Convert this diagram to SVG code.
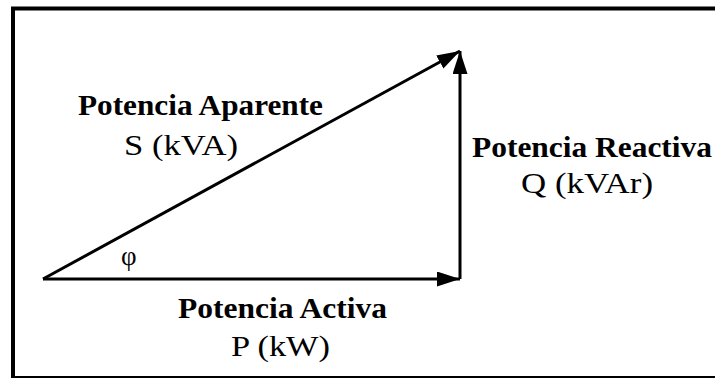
<svg xmlns="http://www.w3.org/2000/svg" width="715" height="378" viewBox="0 0 715 378">
  <style>
    .b { font-weight: bold; }
    .vec { stroke: #000; stroke-width: 3; fill: none; }
  </style>
  <defs>
    <marker id="arrow" markerUnits="userSpaceOnUse" markerWidth="24" markerHeight="16" refX="23" refY="7.5" orient="auto">
      <path d="M0,0 L23,7.5 L0,15 Z" fill="#000"/>
    </marker>
  </defs>
  <rect width="715" height="378" fill="#fff"/>
  <g id="frame">
    <path d="M13,378 L13,8.5 L715,8.5" stroke="#000" stroke-width="4" fill="none"/>
    <path d="M11,377 L715,377" stroke="#000" stroke-width="2" fill="none"/>
  </g>
  <g id="connectors">
    <line class="vec" x1="43" y1="279" x2="460" y2="279" marker-end="url(#arrow)"/>
    <line class="vec" x1="460" y1="279" x2="460" y2="51" marker-end="url(#arrow)"/>
    <line class="vec" x1="43" y1="279" x2="460" y2="51" marker-end="url(#arrow)"/>
  </g>
  <g font-family="'Liberation Serif', 'Times New Roman', serif" font-size="29" fill="#000">
    <g id="apparent">
      <text class="b" x="78" y="115" textLength="245" lengthAdjust="spacingAndGlyphs">Potencia Aparente</text>
      <text x="124" y="155" textLength="114" lengthAdjust="spacingAndGlyphs">S (kVA)</text>
    </g>
    <g id="reactive">
      <text class="b" x="472" y="157" textLength="240" lengthAdjust="spacingAndGlyphs">Potencia Reactiva</text>
      <text x="521" y="193" textLength="132" lengthAdjust="spacingAndGlyphs">Q (kVAr)</text>
    </g>
    <g id="active">
      <text class="b" x="178" y="318" textLength="209" lengthAdjust="spacingAndGlyphs">Potencia Activa</text>
      <text x="231" y="356" textLength="99" lengthAdjust="spacingAndGlyphs">P (kW)</text>
    </g>
    <g id="angle">
      <text x="121" y="265" font-size="27">φ</text>
    </g>
  </g>
</svg>
